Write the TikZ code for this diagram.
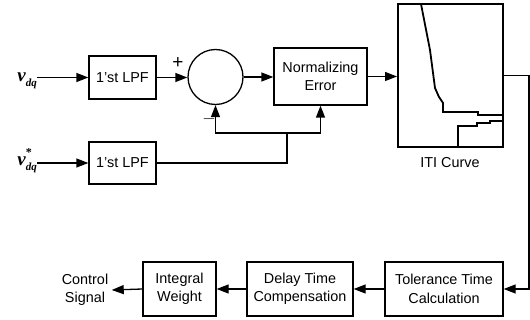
\documentclass[tikz,border=0pt]{standalone}
\usepackage{fontspec}
\setmainfont{Liberation Sans}
\newfontfamily\vfont{Liberation Serif}
\usetikzlibrary{arrows.meta}
\newcommand\vsym{{\vfont\bfseries\itshape\fontsize{19}{19}\selectfont v}}
\newcommand\dqsub{\raisebox{-5pt}{\vfont\bfseries\itshape\fontsize{11}{11}\selectfont dq}}
\newcommand\starsym{\makebox[0pt][l]{\raisebox{9pt}{\vfont\bfseries\fontsize{12}{12}\selectfont *}}}
\begin{document}
\begin{tikzpicture}[x=1pt,y=-1pt,
  font=\fontsize{14.4}{18.5}\selectfont,
  box/.style={draw,line width=1.3pt,align=center,inner sep=0pt},
  conn/.style={line width=1.3pt},
  arr/.style={conn,-{Triangle[length=12pt,width=9pt]}},
  curve/.style={line width=1.8pt,line join=miter}]
\useasboundingbox (0,0) rectangle (530,320);

% top row
\node[anchor=base east,inner sep=0pt] (vin) at (37,82) {\vsym\dqsub};
\node[box,minimum width=67pt,minimum height=43pt] (lpf1) at (122.5,77.5) {1'st LPF};
\node[draw,circle,line width=1.3pt,minimum size=55pt,inner sep=0pt] (sum) at (215.5,77) {};
\node[box,minimum width=93pt,minimum height=57pt] (norm) at (320.5,76.5) {Normalizing\\Error};
\node[draw,line width=2pt,minimum width=105pt,minimum height=143pt,inner sep=0pt] (iti) at (450.5,75.5) {};
\node (itil) at (450,163) {ITI Curve};
\node (plus) at (178,63) {\fontsize{19}{19}\selectfont +};
\node (minus) at (209,119) {\fontsize{19}{19}\selectfont $-$};

% ITI curve content
\draw[curve] (421,4) -- (430,50) -- (435,88) -- (439,97) -- (443,103) -- (443,112) -- (478,112) -- (478,115) -- (503,115);
\draw[curve] (458,147) -- (458,126) -- (477,126) -- (477,123) -- (490,123) -- (490,121) -- (503,121);

% second input
\node[anchor=base east,inner sep=0pt] (vin2) at (37,166) {\vsym\starsym\dqsub};
\node[box,minimum width=67pt,minimum height=42pt] (lpf2) at (122.5,163) {1'st LPF};

% bottom row
\node[box,minimum width=118pt,minimum height=54pt] (tol) at (444,289) {Tolerance Time\\Calculation};
\node[box,minimum width=106pt,minimum height=54pt] (delay) at (300,289) {Delay Time\\Compensation};
\node[box,minimum width=73pt,minimum height=54pt] (integ) at (179.5,289) {Integral\\Weight};
\node[align=center] (ctrl) at (85,290) {Control\\Signal};

% connectors
\draw[arr] (lpf1.west -| vin.east) -- (lpf1.west);
\draw[arr] (lpf1.east) -- (lpf1.east -| sum.west);
\draw[arr] (sum.east) -- (sum.east -| norm.west);
\draw[arr] (norm.east) -- (norm.east -| iti.west);
\draw[arr] (lpf2.west -| vin2.east) -- (lpf2.west);
\coordinate (fb) at (287,133);
\draw[conn] (lpf2.east) -| (fb);
\draw[arr] (fb) -| (sum.south);
\draw[arr] (fb) -| (norm.south);
\draw[arr] (iti.east) -- ++(25,0) |- (tol.east);
\draw[arr] (tol.west) -- (delay.east);
\draw[arr] (delay.west) -- (integ.east);
\draw[arr] (integ.west) -- (ctrl.east);
\end{tikzpicture}
\end{document}
